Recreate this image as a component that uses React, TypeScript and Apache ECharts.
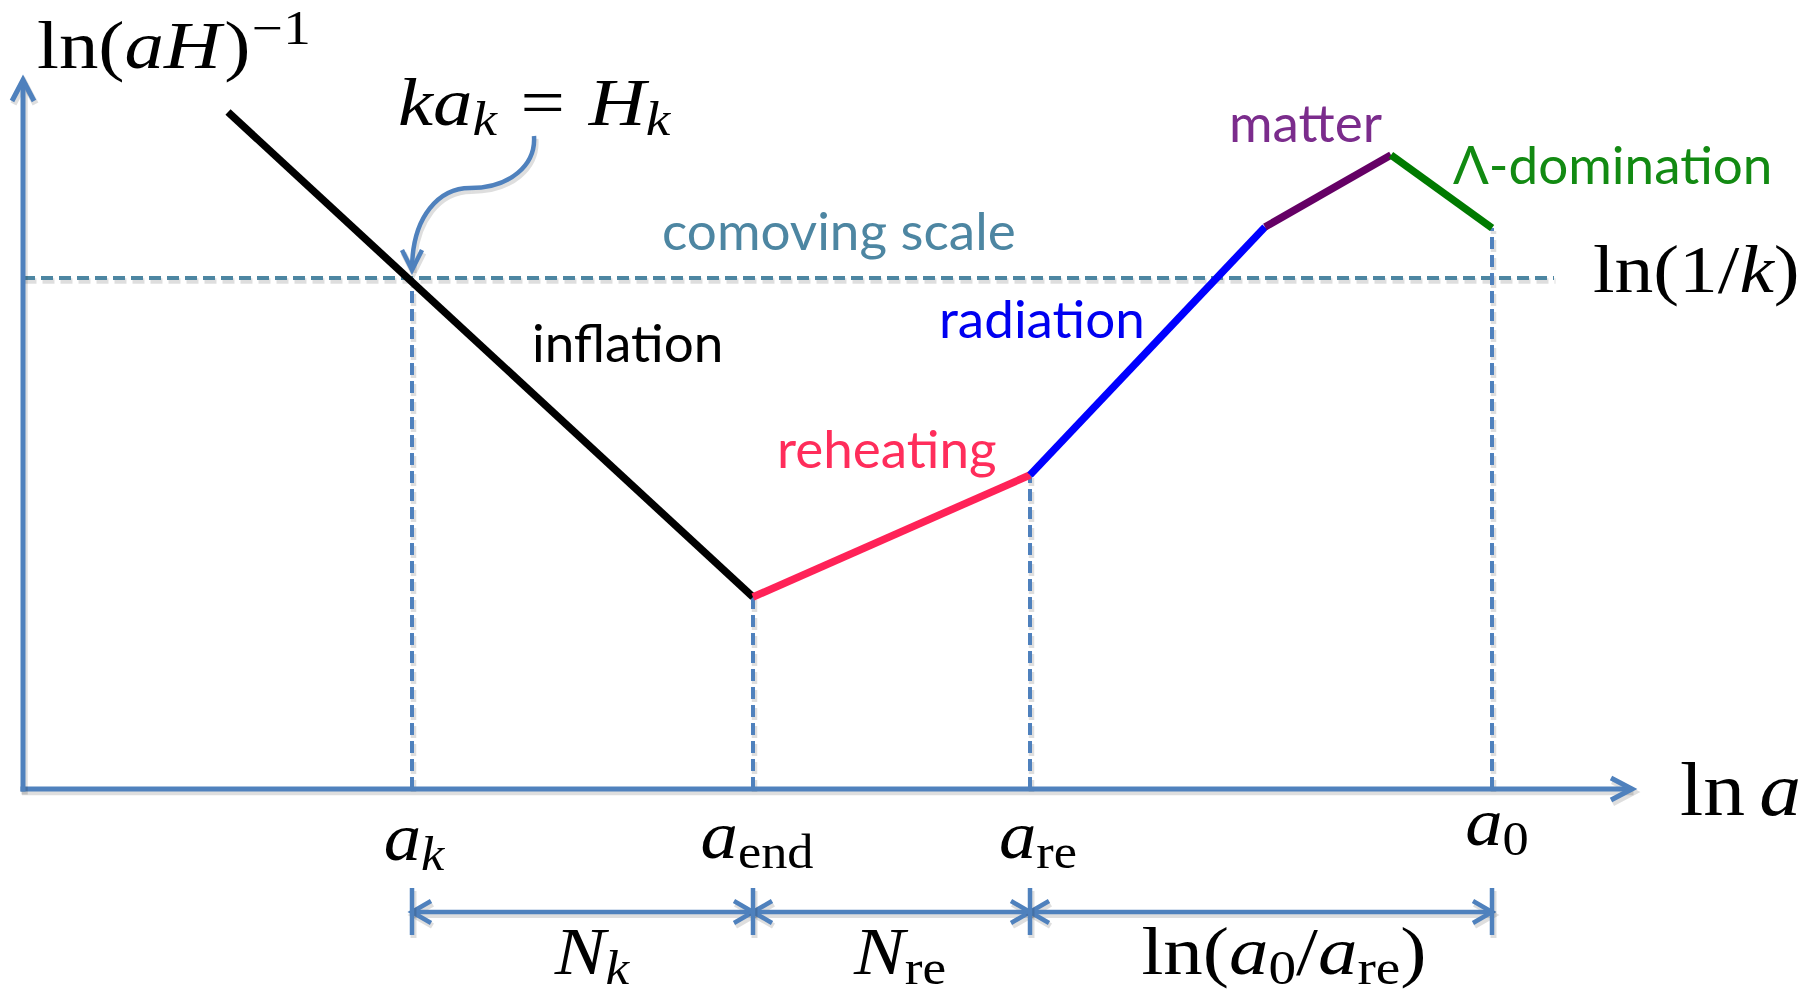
import React, { useEffect, useRef } from "react";
import * as echarts from "echarts";

// ---- comoving Hubble radius, ln (aH)^-1, against ln a: breakpoints of each epoch ----
const lnA = [4.1, 14.6, 20.14, 24.84, 27.36, 29.38];
const lnHubbleRadius = [13.54, 3.84, 6.28, 11.24, 12.68, 11.22];
const epochs = ["inflation", "reheating", "radiation", "matter", "Λ-domination"];
const epochLineColors = ["#000000", "#ff2257", "#0000ff", "#650065", "#007a00"];
const epochTextColors = ["#000000", "#ff2d5b", "#0000f0", "#7b2c8c", "#128a12"];

// comoving scale of the mode k and the moment it leaves the horizon
const lnInvK = 10.22;
const lnAk = 7.78;
const comovingEnd = 30.62;

// tips of the two axes
const xAxisEnd = 32.18;
const yAxisEnd = 14.18;

// e-fold interval bar under the ln a axis
const barLevel = -2.46;
const barTick = [-1.98, -2.92];

// callout from "k a_k = H_k" to the crossing point: cubic Bézier points
const calloutPath = [
  [10.22, 13.06],
  [10.26, 12.48],
  [9.74, 12.02],
  [8.94, 12.02],
  [8.34, 12.02],
  [7.78, 11.48],
  [7.78, 10.38],
];

// marked scale factors a_k, a_end, a_re, a_0 and where their guides stop
const markerLnA = [lnAk, lnA[1], lnA[2], lnA[5]];
const markerTop = [lnInvK, lnHubbleRadius[1], lnHubbleRadius[2], lnHubbleRadius[5]];

// ---- layout ----
const BLUE = "#4f81bd";
const COMOVING = "#4d86a2";
const SHADOW = "rgba(0,0,0,0.13)";
const SERIF = '"Liberation Serif", "Times New Roman", serif';
const SANS = 'Lato, "Open Sans", sans-serif';
const CENTRAL_SERIF = 0.3375;
const CENTRAL_SANS = 0.387;
const MATH_SIZE = 68;
const WORD_SIZE = 53;

const epochLabelAt = [
  [10.18, 8.54],
  [15.08, 6.42],
  [18.32, 9.02],
  [24.12, 12.94],
  [28.6, 12.1],
];
const comovingLabelAt = [12.78, 10.78];

type Piece = { t: string; it?: boolean; pos?: "sub" | "sup"; sp?: number };
type MathLabel = { pieces: Piece[]; at: number[]; size: number; stretch: number; align: "left" | "center" };

const mathLabels: MathLabel[] = [
  {
    pieces: [{ t: "ln(" }, { t: "aH", it: true }, { t: ")", sp: 0.04 }, { t: "−1", pos: "sup", sp: 0.02 }],
    at: [0.28, 14.42],
    size: MATH_SIZE,
    stretch: 1.16,
    align: "left",
  },
  {
    pieces: [
      { t: "k", it: true },
      { t: "a", it: true },
      { t: "k", it: true, pos: "sub" },
      { t: "=", sp: 0.3 },
      { t: "H", it: true, sp: 0.3 },
      { t: "k", it: true, pos: "sub" },
    ],
    at: [7.5, 13.28],
    size: MATH_SIZE,
    stretch: 1.16,
    align: "left",
  },
  {
    pieces: [{ t: "ln(1/" }, { t: "k", it: true }, { t: ")" }],
    at: [31.4, 9.94],
    size: MATH_SIZE,
    stretch: 1.14,
    align: "left",
  },
  {
    pieces: [{ t: "ln" }, { t: "a", it: true, sp: 0.17 }],
    at: [33.14, -0.52],
    size: 76,
    stretch: 1.1,
    align: "left",
  },
  { pieces: [{ t: "a", it: true }, { t: "k", it: true, pos: "sub" }], at: [7.82, -1.42], size: MATH_SIZE, stretch: 1.1, align: "center" },
  { pieces: [{ t: "a", it: true }, { t: "end", pos: "sub" }], at: [14.68, -1.38], size: MATH_SIZE, stretch: 1.1, align: "center" },
  { pieces: [{ t: "a", it: true }, { t: "re", pos: "sub" }], at: [20.3, -1.38], size: MATH_SIZE, stretch: 1.1, align: "center" },
  { pieces: [{ t: "a", it: true }, { t: "0", pos: "sub" }], at: [29.48, -1.12], size: MATH_SIZE, stretch: 1.1, align: "center" },
  { pieces: [{ t: "N", it: true }, { t: "k", it: true, pos: "sub" }], at: [11.38, -3.7], size: MATH_SIZE, stretch: 1.12, align: "center" },
  { pieces: [{ t: "N", it: true }, { t: "re", pos: "sub" }], at: [17.54, -3.7], size: MATH_SIZE, stretch: 1.12, align: "center" },
  {
    pieces: [
      { t: "ln(" },
      { t: "a", it: true },
      { t: "0", pos: "sub" },
      { t: "/" },
      { t: "a", it: true },
      { t: "re", pos: "sub" },
      { t: ")" },
    ],
    at: [25.22, -3.7],
    size: MATH_SIZE,
    stretch: 1.16,
    align: "center",
  },
];

let measureCtx: CanvasRenderingContext2D | null = null;
function measure(text: string, font: string) {
  if (!measureCtx) measureCtx = document.createElement("canvas").getContext("2d");
  measureCtx!.font = font;
  return measureCtx!.measureText(text).width;
}

function mathChildren(lab: MathLabel) {
  const items: { t: string; font: string; fs: number; x: number; dy: number }[] = [];
  let x = 0;
  for (const p of lab.pieces) {
    const fs = p.pos ? lab.size * 0.7 : lab.size;
    const font = `${p.it ? "italic " : ""}${fs}px ${SERIF}`;
    x += (p.sp || 0) * lab.size;
    const dy = p.pos === "sub" ? 0.15 * lab.size : p.pos === "sup" ? -0.36 * lab.size : 0;
    items.push({ t: p.t, font, fs, x, dy });
    x += measure(p.t, font);
  }
  const x0 = lab.align === "center" ? -x / 2 : 0;
  return items.map((it) => ({
    type: "text",
    x: x0 + it.x,
    y: it.dy - CENTRAL_SERIF * it.fs,
    style: { text: it.t, font: it.font, fill: "#000000", align: "left", verticalAlign: "middle" },
  }));
}

function chevron(tip: number[], from: number[], len: number, half: number) {
  const dx = tip[0] - from[0];
  const dy = tip[1] - from[1];
  const d = Math.hypot(dx, dy) || 1;
  const ux = dx / d;
  const uy = dy / d;
  const bx = tip[0] - ux * len;
  const by = tip[1] - uy * len;
  return [
    [bx - uy * half, by + ux * half],
    [tip[0], tip[1]],
    [bx + uy * half, by - ux * half],
  ];
}

// soft drop shadow: an offset, translucent copy drawn underneath
function withShadow(shapes: any[]) {
  return [
    {
      type: "group",
      x: 1.5,
      y: 3,
      children: shapes.map((s) => ({
        ...s,
        style: { ...s.style, stroke: SHADOW, lineWidth: s.style.lineWidth + 1.5 },
      })),
    },
    ...shapes,
  ];
}

type StrokeOpts = {
  color: string;
  width: number;
  dash?: number[];
  headStart?: boolean;
  headEnd?: boolean;
  len?: number;
  half?: number;
};

function strokeSeries(rows: number[][], o: StrokeOpts, z = 2) {
  return {
    type: "custom",
    coordinateSystem: "cartesian2d",
    silent: true,
    clip: false,
    z,
    data: rows,
    renderItem: (_params: any, api: any) => {
      const p1 = api.coord([api.value(0), api.value(1)]);
      const p2 = api.coord([api.value(2), api.value(3)]);
      const style: any = { stroke: o.color, lineWidth: o.width, fill: "none", lineCap: "butt", lineJoin: "miter" };
      if (o.dash) style.lineDash = o.dash;
      const headStyle = { stroke: o.color, lineWidth: o.width, fill: "none", lineCap: "butt", lineJoin: "miter" };
      const shapes: any[] = [{ type: "line", shape: { x1: p1[0], y1: p1[1], x2: p2[0], y2: p2[1] }, style }];
      if (o.headStart) shapes.push({ type: "polyline", shape: { points: chevron(p1, p2, o.len!, o.half!) }, style: headStyle });
      if (o.headEnd) shapes.push({ type: "polyline", shape: { points: chevron(p2, p1, o.len!, o.half!) }, style: headStyle });
      return { type: "group", children: withShadow(shapes) };
    },
  };
}

function buildOption() {
  const epochSeries = epochs.map((name, i) => ({
    type: "line",
    name,
    data: [
      [lnA[i], lnHubbleRadius[i]],
      [lnA[i + 1], lnHubbleRadius[i + 1]],
    ],
    symbol: "none",
    silent: true,
    clip: false,
    z: 3,
    lineStyle: { color: epochLineColors[i], width: 7.5, cap: "butt" },
  }));

  const guides = markerLnA.map((x, i) => [x, 0, x, markerTop[i]]);
  const barSegments = markerLnA.slice(0, -1).map((x, i) => [x, barLevel, markerLnA[i + 1], barLevel]);
  const barTicks = markerLnA.map((x) => [x, barTick[0], x, barTick[1]]);

  const wordLabels = [
    ...epochs.map((name, i) => ({ text: name, color: epochTextColors[i], at: epochLabelAt[i] })),
    { text: "comoving scale", color: COMOVING, at: comovingLabelAt },
  ];

  return {
    animation: false,
    backgroundColor: "#ffffff",
    grid: { left: 23, top: 39, width: 1750, height: 950, show: false, outerBoundsMode: "none" },
    xAxis: { type: "value", min: 0, max: 35, show: false },
    yAxis: { type: "value", min: -4, max: 15, show: false },
    series: [
      strokeSeries([[0, lnInvK, comovingEnd, lnInvK]], { color: COMOVING, width: 4, dash: [12, 6] }, 1),
      strokeSeries(guides, { color: BLUE, width: 4, dash: [12, 6] }, 1),
      ...epochSeries,
      strokeSeries(
        [
          [-0.05, 0, xAxisEnd, 0],
          [0, -0.05, 0, yAxisEnd],
        ],
        { color: BLUE, width: 5, headEnd: true, len: 21, half: 11 }
      ),
      strokeSeries(barSegments, { color: BLUE, width: 4.5, headStart: true, headEnd: true, len: 19, half: 11 }),
      strokeSeries(barTicks, { color: BLUE, width: 4.5 }),
      {
        type: "custom",
        coordinateSystem: "cartesian2d",
        silent: true,
        clip: false,
        z: 4,
        data: [calloutPath.flat()],
        renderItem: (_params: any, api: any) => {
          const pts = [0, 1, 2, 3, 4, 5, 6].map((k) => api.coord([api.value(2 * k), api.value(2 * k + 1)]));
          const style = { stroke: BLUE, lineWidth: 4.5, fill: "none", lineCap: "butt" };
          const seg = (a: number[], b: number[], c: number[], d: number[]) => ({
            type: "bezierCurve",
            shape: { x1: a[0], y1: a[1], cpx1: b[0], cpy1: b[1], cpx2: c[0], cpy2: c[1], x2: d[0], y2: d[1] },
            style,
          });
          return {
            type: "group",
            children: withShadow([
              seg(pts[0], pts[1], pts[2], pts[3]),
              seg(pts[3], pts[4], pts[5], pts[6]),
              { type: "polyline", shape: { points: chevron(pts[6], pts[5], 20, 10) }, style },
            ]),
          };
        },
      },
      {
        type: "custom",
        coordinateSystem: "cartesian2d",
        silent: true,
        clip: false,
        z: 5,
        data: wordLabels.map((l) => [l.at[0], l.at[1]]),
        renderItem: (params: any, api: any) => {
          const l = wordLabels[params.dataIndex];
          const p = api.coord([api.value(0), api.value(1)]);
          return {
            type: "text",
            x: p[0],
            y: p[1] - CENTRAL_SANS * WORD_SIZE,
            style: {
              text: l.text,
              font: `${WORD_SIZE}px ${SANS}`,
              fill: l.color,
              align: "left",
              verticalAlign: "middle",
            },
          };
        },
      },
      {
        type: "custom",
        coordinateSystem: "cartesian2d",
        silent: true,
        clip: false,
        z: 5,
        data: mathLabels.map((l) => [l.at[0], l.at[1]]),
        renderItem: (params: any, api: any) => {
          const lab = mathLabels[params.dataIndex];
          const p = api.coord([api.value(0), api.value(1)]);
          return {
            type: "group",
            x: p[0],
            y: p[1],
            scaleX: lab.stretch,
            children: mathChildren(lab),
          };
        },
      },
    ],
  };
}

export default function App() {
  const ref = useRef<HTMLDivElement>(null);
  useEffect(() => {
    if (!ref.current) return;
    const chart = echarts.init(ref.current, undefined, { renderer: "svg" });
    chart.setOption(buildOption() as any);
    return () => chart.dispose();
  }, []);
  return (
    <div
      ref={ref}
      style={{ position: "absolute", left: 0, top: 0, width: 1814, height: 996, background: "#ffffff" }}
    />
  );
}
